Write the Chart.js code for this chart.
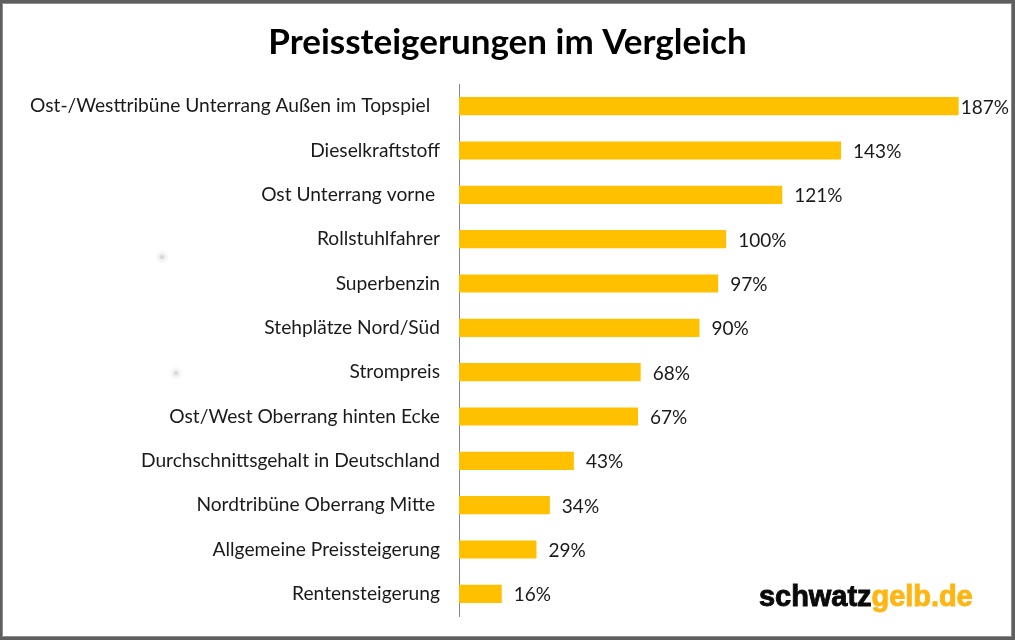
<!DOCTYPE html>
<html><head><meta charset="utf-8">
<style>
html,body{margin:0;padding:0;background:#fff;overflow:hidden}
#wrap{position:relative;width:1015px;height:640px;box-sizing:border-box}
#wrap:after{content:"";position:absolute;inset:0;box-sizing:border-box;border:solid #5f5f5f;border-width:3px 3px 3px 2px;box-shadow:inset 0 0 0 1px #8f8f8f;pointer-events:none}
canvas{display:block}
.smudge{position:absolute;width:4px;height:4px;border-radius:50%;background:#d8d8d8;box-shadow:0 0 4px 2px #e4e4e4}
#logo{position:absolute;left:759px;top:581px;font:900 29px "Liberation Sans",sans-serif;letter-spacing:-.05px;-webkit-text-stroke:.9px currentColor;color:#0a0a0a;line-height:30px;white-space:nowrap}
#logo span{color:#ffb612}
</style>
<script src="https://cdn.jsdelivr.net/npm/chart.js@4/dist/chart.umd.min.js"></script>
</head><body>
<div id="wrap">
<canvas id="c" width="1015" height="640"></canvas>
<div class="smudge" style="left:160px;top:255px"></div>
<div class="smudge" style="left:174px;top:371px"></div>
<div id="logo">schwatz<span>gelb.de</span></div>
</div>
<script>
const titleText = "Preissteigerungen im Vergleich";
const categories = [
  "Ost-/Westtribüne Unterrang Außen im Topspiel  ",
  "Dieselkraftstoff",
  "Ost Unterrang vorne ",
  "Rollstuhlfahrer",
  "Superbenzin",
  "Stehplätze Nord/Süd",
  "Strompreis",
  "Ost/West Oberrang hinten Ecke",
  "Durchschnittsgehalt in Deutschland",
  "Nordtribüne Oberrang Mitte ",
  "Allgemeine Preissteigerung",
  "Rentensteigerung"
];
const values = [187,143,121,100,97,90,68,67,43,34,29,16];
const barColor = "#FFC000";
const FONT = "Lato, 'Open Sans', sans-serif";

const valueLabels = {
  id:"valueLabels",
  afterDatasetsDraw(chart){
    const {ctx} = chart;
    ctx.save();
    ctx.font = "19px " + FONT;
    ctx.fillStyle = "#1a1a1a";
    ctx.textBaseline = "middle";
    ctx.textAlign = "left";
    chart.getDatasetMeta(0).data.forEach((bar,i)=>{
      const gap = i === 0 ? 2 : 12;
      ctx.fillText(values[i] + "%", bar.x + gap, bar.y + 1.5);
    });
    ctx.restore();
  }
};

new Chart(document.getElementById("c"),{
  type:"bar",
  data:{labels:categories,datasets:[{data:values,backgroundColor:barColor,borderWidth:0,barPercentage:0.41,categoryPercentage:1}]},
  plugins:[valueLabels],
  options:{
    indexAxis:"y",
    responsive:false,
    animation:false,
    devicePixelRatio:1,
    layout:{padding:{top:0,right:0,bottom:24,left:0}},
    plugins:{
      legend:{display:false},
      tooltip:{enabled:false},
      title:{display:true,text:titleText,color:"#000",font:{family:FONT,size:35,weight:"bold"},padding:{top:22,bottom:20},align:"center"}
    },
    scales:{
      x:{display:false,min:0,max:208.1},
      y:{
        afterFit(s){ s.width = 459; s.paddingTop = 0; s.paddingBottom = 0; },
        grid:{display:false,drawTicks:false},
        border:{display:true,color:"#868686",width:1},
        ticks:{color:"#1a1a1a",font:{family:FONT,size:19.2},padding:19,autoSkip:false,crossAlign:"near"}
      }
    }
  }
});
</script>
</body></html>
